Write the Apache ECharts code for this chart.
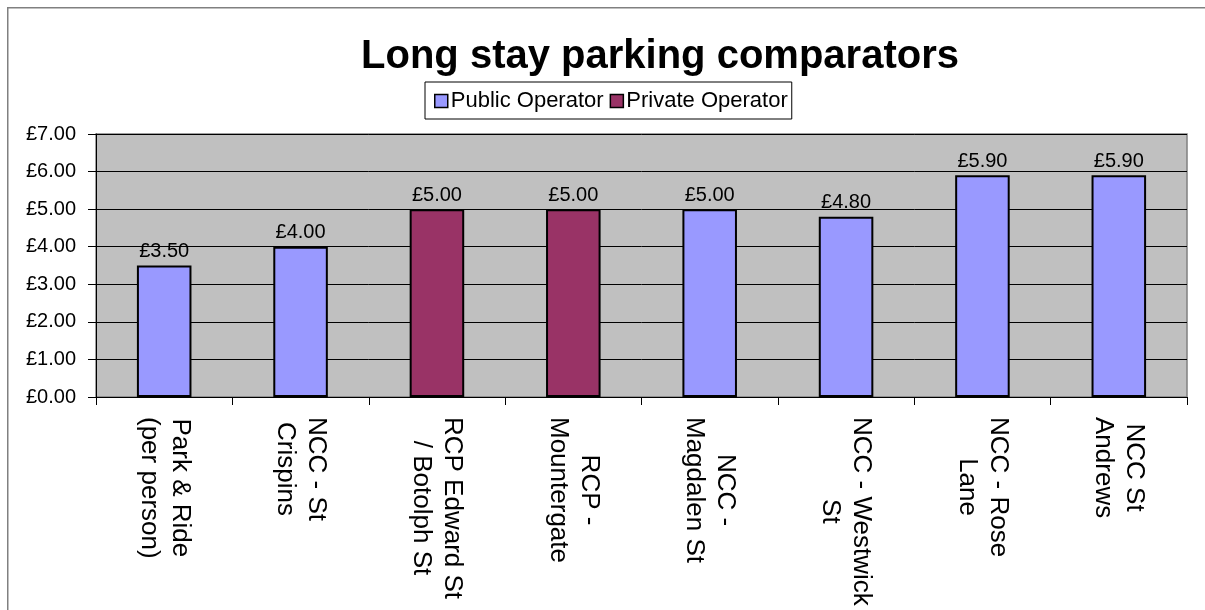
<!DOCTYPE html>
<html>
<head>
<meta charset="utf-8">
<script src="https://cdn.jsdelivr.net/npm/echarts@6/dist/echarts.min.js"></script>
<style>
html,body{margin:0;padding:0;background:#fff;}
#chart{width:1205px;height:610px;}
</style>
</head>
<body>
<div id="chart"></div>
<script>
var categories = [
  'Park & Ride\n(per person)',
  'NCC - St\nCrispins',
  'RCP Edward St\n/ Botolph St',
  'RCP -\nMountergate',
  'NCC -\nMagdalen St',
  'NCC - Westwick\nSt',
  'NCC - Rose\nLane',
  'NCC St\nAndrews'
];
var publicValues  = [3.5, 4.0, '-', '-', 5.0, 4.8, 5.9, 5.9];
var privateValues = ['-', '-', 5.0, 5.0, '-', '-', '-', '-'];
var yTicks = { min: 0, max: 7, interval: 1 };

var FONT = '"Liberation Sans", Arial, sans-serif';
var chart = echarts.init(document.getElementById('chart'), null, {renderer: 'canvas'});

function money(v){ return '£' + Number(v).toFixed(2); }

var labelCfg = {
  show: true, position: 'top', distance: 4,
  fontFamily: FONT, fontSize: 20, color: '#000',
  formatter: function(p){ return money(p.value); }
};

chart.setOption({
  animation: false,
  textStyle: { fontFamily: FONT },
  graphic: [{
    type: 'rect', left: 7, top: 7, z: -10,
    shape: { width: 1220, height: 640 },
    style: { fill: '#fff', stroke: '#808080', lineWidth: 1.5 }
  }],
  title: {
    text: 'Long stay parking comparators',
    left: 655, top: 32, textAlign: 'center',
    textStyle: { fontFamily: FONT, fontSize: 40, fontWeight: 'bold', color: '#000' }
  },
  legend: {
    left: 425, top: 82,
    padding: [8, 4, 7, 9],
    itemWidth: 13, itemHeight: 13, itemGap: 6,
    backgroundColor: '#fff', borderColor: '#000', borderWidth: 1,
    icon: 'rect',
    itemStyle: { borderColor: '#000', borderWidth: 1.5 },
    textStyle: { fontFamily: FONT, fontSize: 22, color: '#000', padding: [0,0,0,-2] },
    data: ['Public Operator', 'Private Operator']
  },
  grid: {
    left: 96, right: 18, top: 134, bottom: 213,
    show: true, backgroundColor: '#C0C0C0', borderColor: '#808080', borderWidth: 1.5
  },
  xAxis: {
    type: 'category',
    data: categories,
    boundaryGap: true,
    axisLine: { show: true, lineStyle: { color: '#000', width: 1 } },
    axisTick: { show: true, alignWithLabel: false, length: 8, lineStyle: { color: '#000' } },
    axisLabel: {
      interval: 0, rotate: -90, margin: 20,
      fontFamily: FONT, fontSize: 26, color: '#000',
      formatter: function(v){
        return v.split('\n').map(function(l){ return '{a|' + l + '}'; }).join('\n');
      },
      rich: { a: { fontFamily: FONT, fontSize: 26, color: '#000', align: 'center', lineHeight: 31 } }
    }
  },
  yAxis: {
    type: 'value',
    min: yTicks.min, max: yTicks.max, interval: yTicks.interval,
    axisLine: { show: true, lineStyle: { color: '#000', width: 1 } },
    axisTick: { show: true, length: 8, lineStyle: { color: '#000' } },
    splitLine: { show: true, lineStyle: { color: '#000', width: 1 } },
    axisLabel: {
      margin: 20, fontFamily: FONT, fontSize: 20, color: '#000',
      formatter: function(v){ return money(v); }
    }
  },
  series: [
    {
      name: 'Public Operator', type: 'bar', stack: 'all', barWidth: '40%',
      data: publicValues,
      itemStyle: { color: '#9999FF', borderColor: '#000', borderWidth: 2 },
      label: labelCfg
    },
    {
      name: 'Private Operator', type: 'bar', stack: 'all', barWidth: '40%',
      data: privateValues,
      itemStyle: { color: '#993366', borderColor: '#000', borderWidth: 2 },
      label: labelCfg
    }
  ]
});
</script>
</body>
</html>
